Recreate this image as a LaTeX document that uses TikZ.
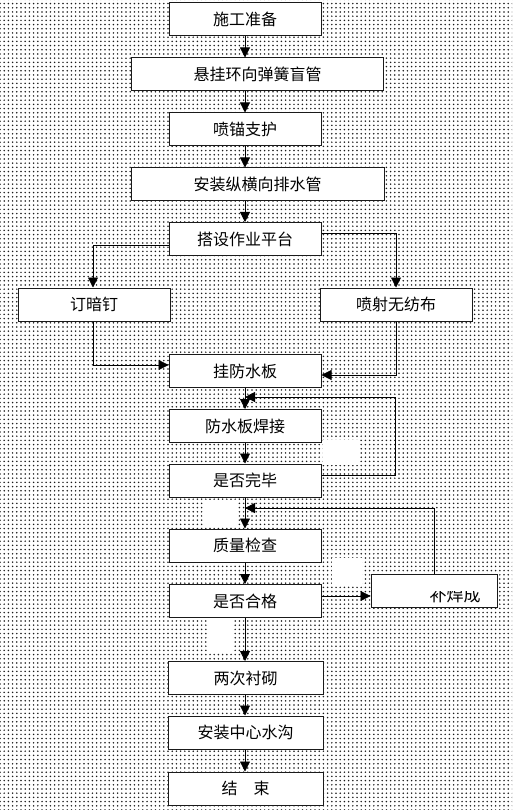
\documentclass[tikz,border=0pt]{standalone}
\usepackage{fontspec}
\newfontfamily\cjk{Noto Sans CJK SC}
\usetikzlibrary{arrows.meta, calc, patterns.meta}
\definecolor{cline}{HTML}{1A1A1A}
\definecolor{cdot}{HTML}{1A1A1A}
\tikzset{
  every picture/.style={line width=0.8pt},
  box/.style={draw=cline, fill=white, line width=1pt, minimum width=#1, minimum height=33pt, inner sep=0pt, font=\cjk\fontsize{16}{16}\selectfont},
  box/.default=152pt,
  arrow/.style={-{Triangle[length=10pt, width=10pt]}, draw=black, line width=0.8pt},
  blank/.style={fill=white, draw=none},
}

\begin{document}
\begin{tikzpicture}[x=1pt, y=-1pt]
  % dotted page and the white label patches
  \useasboundingbox (0,0) rectangle (512,810);
  \fill[white] (0,0) rectangle (512,810);
  \fill[pattern={Dots[distance=4.2pt, radius=0.85pt]}, pattern color=cdot] (0,0) rectangle (512,810);
  \fill[blank] (323,440) rectangle (360,465);
  \fill[blank] (203,500) rectangle (238,527);
  \fill[blank] (332,558) rectangle (362,585);
  \fill[blank] (208,618) rectangle (233,653);
  % main steps
  \node[box] (prep) at (245,19.5) {施工准备};
  \node[box=252pt] (pipe) at (257.5,74.5) {悬挂环向弹簧盲管};
  \node[box] (spray) at (245,129.5) {喷锚支护};
  \node[box=253pt] (drain) at (257.5,184.5) {安装纵横向排水管};
  \node[box] (plat) at (245,239) {搭设作业平台};
  \node[box] (nail) at (94,304.5) {订暗钉};
  \node[box] (cloth) at (396,304.5) {喷射无纺布};
  \node[box] (hang) at (245,371) {挂防水板};
  \node[box] (weld) at (245,426) {防水板焊接};
  \node[box] (done) at (245,480.5) {是否完毕};
  \node[box] (check) at (245,545.5) {质量检查};
  \node[box] (ok) at (245,601) {是否合格};
  \node[box=126pt] (repair) at (434,590.5) {};
  \begin{scope}
    \clip (371,591) rectangle (497,607);
    \node[font=\cjk\fontsize{17}{17}\selectfont] (repairtxt) at (455,595) {补焊成};
  \end{scope}
  \node[box=155pt] (lining) at (245.5,678) {两次衬砌};
  \node[box=155pt] (ditch) at (245.5,732.5) {安装中心水沟};
  \node[box=155pt] (end) at (245.5,788.5) {结　束};
  % connectors
  \draw[arrow] (prep) -- (prep |- pipe.north);
  \draw[arrow] (spray |- pipe.south) -- (spray);
  \draw[arrow] (spray) -- (spray |- drain.north);
  \draw[arrow] (plat |- drain.south) -- (plat);
  \draw[arrow] ([yshift=-6pt]plat.west) -| ([xshift=-1pt]nail.north);
  \draw[arrow] ([yshift=6pt]plat.east) -| (cloth.north);
  \draw[arrow] ([xshift=-1pt]nail.south) |- ([yshift=6pt]hang.west);
  \draw[arrow] (cloth.south) |- ([yshift=-4pt]hang.east);
  \draw[arrow] (hang) -- (weld);
  \draw[arrow] (weld) -- (done);
  \draw[arrow] (done) -- (check);
  \draw[arrow] (check) -- (ok);
  \draw[arrow] (ok) -- (ok |- lining.north);
  \draw[arrow] (ok |- lining.south) -- (ok |- ditch.north);
  \draw[arrow] (ok |- ditch.south) -- (ok |- end.north);
  % loops back to the main line
  \coordinate (weldin) at ($(hang.south)!0.43!(weld.north)$);
  \coordinate (checkin) at ($(done.south)!0.34!(check.north)$);
  \coordinate (okout) at ([yshift=5pt]ok.east);
  \draw[arrow] ([yshift=5.5pt]done.east) -- ++(74,0) |- (weldin);
  \draw[arrow] (repair.north) |- (checkin);
  \draw[arrow] (okout) -- (repair.west |- okout);
\end{tikzpicture}
\end{document}
